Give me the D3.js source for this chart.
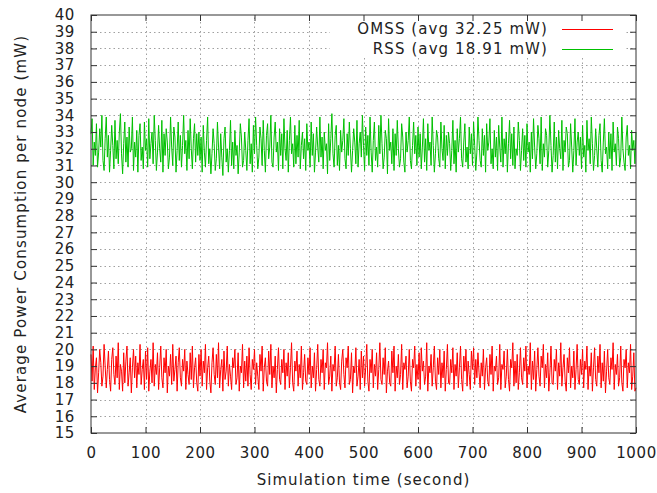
<!DOCTYPE html>
<html>
<head>
<meta charset="utf-8">
<script src="https://cdn.jsdelivr.net/npm/d3@7"></script>
<style>
  body { margin: 0; background: #fff; }
  svg text { font-family: "DejaVu Sans", sans-serif; fill: #222; }
</style>
</head>
<body>
<div id="chart"></div>
<script>
// values, one sample every 2 seconds (0..1000)
const seriesNames = ['OMSS (avg 32.25 mW)', 'RSS (avg 18.91 mW)'];
const seriesColors = ['#ff0000', '#00c000'];
const xTicks = [0, 100, 200, 300, 400, 500, 600, 700, 800, 900, 1000];
const yTicks = [15, 16, 17, 18, 19, 20, 21, 22, 23, 24, 25, 26, 27, 28, 29, 30, 31, 32, 33, 34, 35, 36, 37, 38, 39, 40];

// red line (lower band)
const redValues = [
    19.7,18.1,20.2,17.6,18.9,19.5,17.4,18.6,20.0,19.2,17.8,18.4,20.3,19.0,17.7,18.8,19.9,18.2,17.5,19.4,20.1,18.5,17.9,19.6,18.3,20.4,17.6,19.1,18.7,17.5,19.8,18.0,19.3,20.2,17.8,18.6,19.5,17.4,18.9,20.0,18.3,19.6,17.7,19.2,18.5,20.3,17.9,18.8,19.4,17.6,
    19.9,18.2,20.1,17.5,18.7,19.4,18.0,20.4,17.8,19.1,18.5,19.8,17.6,18.9,20.2,18.3,17.7,19.5,18.6,20.0,17.4,19.0,18.4,19.7,17.9,20.3,18.1,18.8,19.6,17.5,19.2,20.1,18.3,17.8,19.4,18.7,20.0,17.6,19.3,18.5,17.9,19.8,18.2,20.2,17.7,18.9,19.5,18.0,17.5,19.7,
    18.4,20.0,17.8,19.3,18.6,20.3,17.6,18.9,19.6,18.1,17.4,19.2,20.1,18.5,17.9,19.7,18.3,20.4,17.7,18.8,19.4,17.5,19.9,18.2,18.7,20.2,17.8,19.1,18.4,17.6,19.5,18.9,20.0,17.9,18.3,19.8,17.5,19.0,18.6,20.3,17.7,19.3,18.1,19.6,17.8,20.1,18.5,17.6,19.4,18.8,
    20.0,17.9,19.2,18.4,17.6,19.7,18.7,20.2,17.5,18.9,19.5,18.1,17.8,19.9,18.5,20.3,17.7,19.0,18.3,19.6,17.4,18.8,20.1,18.2,17.9,19.4,18.6,20.0,17.6,19.2,18.4,19.8,17.7,18.9,20.4,18.0,17.5,19.3,18.7,19.9,17.8,19.1,18.3,20.2,17.6,18.6,19.7,18.1,17.9,19.5,
    18.5,20.1,17.7,19.0,18.3,19.8,17.5,18.8,20.3,18.2,17.8,19.4,18.6,20.0,17.6,19.2,18.9,20.4,17.9,18.4,19.6,17.5,19.1,18.7,20.2,17.8,18.3,19.7,18.0,17.6,19.3,20.0,18.5,17.7,19.5,18.9,20.2,17.9,18.2,19.8,17.4,19.0,18.6,20.1,17.8,18.4,19.4,17.6,19.9,18.3,
    19.6,17.8,18.9,20.3,18.1,17.5,19.4,18.6,20.0,17.7,19.1,18.4,19.8,17.6,18.8,20.4,18.2,17.9,19.5,18.5,20.1,17.4,18.7,19.3,18.0,17.8,19.9,18.6,20.2,17.5,19.0,18.3,19.7,17.9,18.5,20.3,17.6,19.2,18.8,19.6,17.7,18.4,20.0,18.1,17.5,19.4,18.9,20.2,17.8,19.1,
    18.2,19.8,17.6,20.1,18.7,19.3,17.9,18.4,20.4,17.5,19.0,18.6,19.7,17.8,18.9,20.2,18.1,17.6,19.5,18.5,20.0,17.7,19.2,18.3,19.9,17.5,18.8,20.3,18.0,17.9,19.4,18.6,20.1,17.6,19.1,18.4,19.8,17.7,18.9,20.2,18.2,17.5,19.6,18.7,20.0,17.8,19.3,18.5,17.6,19.9,
    18.8,20.1,17.9,19.4,18.3,19.8,18.6,17.7,19.2,18.4,20.0,17.6,18.9,19.5,18.1,17.8,19.7,18.5,20.2,17.5,19.0,18.7,19.6,17.9,18.3,20.3,17.6,19.1,18.8,19.9,17.7,18.4,20.0,18.2,17.5,19.4,18.9,20.4,17.8,19.3,18.0,19.7,17.6,18.6,20.1,18.3,17.9,19.5,18.7,20.2,
    17.7,19.0,18.5,20.4,17.6,19.3,18.2,19.9,17.5,18.8,20.1,18.4,17.8,19.6,18.9,20.3,17.7,19.1,18.3,19.8,17.5,18.6,20.2,18.0,17.9,19.4,18.7,20.0,17.6,19.2,18.4,20.4,17.8,18.9,19.7,18.1,17.5,19.5,18.6,20.1,17.7,19.0,18.3,19.9,17.6,18.8,20.3,18.2,17.9,19.4,
    18.5,20.0,17.7,19.3,18.8,20.2,17.6,19.0,18.4,19.8,17.5,18.9,20.1,18.2,17.8,19.6,18.6,20.3,17.7,19.2,18.1,19.9,17.4,18.7,20.0,18.3,17.9,19.5,18.8,20.4,17.6,19.1,18.5,19.7,17.8,18.3,20.2,18.0,17.5,19.4,18.9,20.0,17.7,19.2,18.6,20.3,17.6,18.4,19.8,17.5,
    17.7
];

// green line (upper band)
const greenValues = [
    32.9,33.8,31.0,32.4,31.6,33.5,30.9,31.8,33.2,32.1,34.0,31.3,30.7,32.6,33.9,31.5,32.8,30.6,31.9,33.4,32.2,30.8,33.7,31.4,32.5,31.1,33.0,34.1,31.7,30.5,32.3,33.6,31.2,32.7,30.9,33.3,31.8,32.0,33.9,30.7,32.4,31.5,33.1,30.6,32.8,33.5,31.3,32.1,30.8,33.6,
    31.9,32.6,30.9,33.8,31.4,32.3,33.0,31.1,34.0,32.5,30.7,31.8,33.4,32.0,31.2,33.7,30.6,32.9,31.6,33.2,32.4,30.8,31.5,33.9,32.1,31.0,33.3,32.7,30.6,31.9,33.6,31.3,32.8,30.9,32.2,34.0,31.7,32.5,30.7,33.1,31.4,33.8,32.0,30.8,32.6,33.5,31.2,32.9,31.6,33.0,
    31.3,32.7,30.6,33.4,31.8,30.9,32.5,33.9,31.1,32.0,30.5,31.7,33.2,32.3,30.7,31.4,33.6,32.1,30.8,32.9,31.5,30.4,32.6,33.3,31.2,32.0,30.6,31.9,33.7,31.0,32.4,30.8,33.1,31.6,32.2,30.5,31.8,33.5,32.7,30.9,31.3,33.0,31.9,30.7,32.5,33.8,31.1,32.3,30.6,33.4,
    31.7,33.9,32.2,30.8,31.5,33.3,32.6,31.0,33.7,31.9,30.6,32.8,33.5,31.4,32.1,34.0,31.2,30.9,32.7,33.6,31.8,32.4,30.7,33.2,31.6,32.9,30.8,33.8,32.0,31.3,33.1,30.6,32.5,33.9,31.7,32.3,30.9,33.4,31.1,32.8,31.5,33.7,30.8,32.2,33.0,31.4,32.6,30.7,33.5,31.9,
    32.4,30.9,33.6,31.6,32.9,30.6,31.8,33.3,32.1,31.2,33.9,31.5,32.7,30.8,33.0,31.9,32.3,30.5,33.5,31.3,32.6,34.1,31.7,30.9,32.8,33.4,31.0,32.2,30.7,33.1,31.8,32.5,33.8,31.4,30.8,32.9,31.6,33.6,32.0,30.6,31.9,33.2,32.4,31.1,33.7,30.9,32.3,33.0,31.5,34.0,
    32.2,30.7,33.3,31.6,32.8,31.0,33.9,31.8,30.6,32.5,33.6,31.3,32.1,30.9,33.4,31.7,34.0,32.3,30.8,31.5,33.1,32.6,30.5,33.8,31.9,32.4,31.1,33.2,30.7,32.9,31.6,33.7,32.0,30.9,31.4,33.5,32.7,31.2,30.6,33.0,31.8,32.5,33.9,31.3,30.8,32.2,33.6,31.7,32.8,31.0,
    33.3,31.5,32.9,30.8,32.1,33.8,31.2,32.6,30.7,33.5,31.9,32.4,31.0,33.9,32.2,30.6,31.7,33.1,32.7,31.4,30.9,33.6,32.0,31.3,33.4,30.8,32.8,31.6,33.0,32.3,30.7,31.9,33.7,31.1,32.5,30.6,33.2,31.8,32.6,33.9,31.4,30.9,32.4,33.5,31.2,32.1,30.8,33.3,31.7,32.9,
    31.0,33.6,32.2,30.7,31.8,33.9,32.5,31.3,30.9,33.2,31.6,32.8,30.6,33.5,31.9,32.4,33.8,31.1,32.0,30.8,33.1,31.5,32.7,30.7,33.4,32.1,31.2,33.9,30.9,32.6,31.7,33.0,30.6,32.3,33.7,31.4,32.9,31.0,33.3,30.8,32.0,31.6,33.6,32.5,30.7,31.9,33.2,31.3,32.8,30.9,
    33.5,31.8,32.4,30.6,33.0,31.4,33.8,32.1,30.8,31.7,33.4,32.6,31.1,33.9,30.7,32.3,31.5,33.2,32.8,30.9,31.9,34.0,32.2,30.6,31.6,33.6,31.2,32.7,30.8,33.1,32.0,31.4,33.7,30.7,32.5,31.8,33.3,32.9,30.9,31.3,33.5,32.1,30.6,31.9,33.8,31.0,32.4,33.0,31.6,32.7,
    30.8,33.4,31.5,32.2,30.6,33.7,31.9,32.6,31.1,33.9,32.3,30.7,31.6,33.2,32.0,30.9,32.8,33.5,31.3,30.6,32.4,33.8,31.7,32.1,30.8,33.0,31.4,32.9,30.7,33.6,31.8,32.3,31.0,33.3,32.6,30.9,31.5,33.9,32.0,31.2,30.7,32.7,33.4,31.6,32.2,30.8,33.1,31.9,32.5,31.1,
    33.0
];

// setting param
const width = 657;
const height = 493;
const margin = {top: 15, right: 21, bottom: 60, left: 91};
const tickLen = 6;
const fontSize = '15px';

const svg = d3.select('#chart').append('svg')
    .attr('width', width)
    .attr('height', height);

const x = d3.scaleLinear().domain([0, 1000]).range([margin.left, width - margin.right]);
const y = d3.scaleLinear().domain([15, 40]).range([height - margin.bottom, margin.top]);

// 网格
const grid = svg.append('g')
    .attr('stroke', '#a0a0a0')
    .attr('stroke-width', 1)
    .attr('stroke-dasharray', '1.5,3');
grid.selectAll('.gx')
    .data(xTicks.slice(1, -1))
    .enter()
    .append('line')
    .attr('x1', d => Math.round(x(d)) + 0.5)
    .attr('x2', d => Math.round(x(d)) + 0.5)
    .attr('y1', y(15))
    .attr('y2', y(40));
grid.selectAll('.gy')
    .data(yTicks.slice(1, -1))
    .enter()
    .append('line')
    .attr('x1', x(0))
    .attr('x2', x(1000))
    .attr('y1', d => Math.round(y(d)) + 0.5)
    .attr('y2', d => Math.round(y(d)) + 0.5);

// key background hides the grid behind the legend
svg.append('rect')
    .attr('x', 330)
    .attr('y', margin.top + 1)
    .attr('width', 296)
    .attr('height', 42)
    .attr('fill', '#fff');

// lines, spread evenly over 0..1000 s
const drawSeries = (values, color) => {
    const step = 1000 / (values.length - 1);
    const line = d3.line()
        .x((d, i) => x(i * step))
        .y(d => y(d));
    svg.append('path')
        .datum(values)
        .attr('fill', 'none')
        .style('stroke', color)
        .attr('stroke-width', 1)
        .attr('d', line);
};
drawSeries(redValues, seriesColors[0]);
drawSeries(greenValues, seriesColors[1]);

// axes, ticks point inwards and are mirrored on top/right
const fmt = d3.format('d');
const axisB = svg.append('g')
    .attr('transform', `translate(0,${y(15)})`)
    .call(d3.axisBottom(x).tickValues(xTicks).tickFormat(fmt).tickSize(-tickLen).tickPadding(14));
const axisT = svg.append('g')
    .attr('transform', `translate(0,${y(40)})`)
    .call(d3.axisTop(x).tickValues(xTicks).tickFormat('').tickSize(-tickLen));
const axisL = svg.append('g')
    .attr('transform', `translate(${x(0)},0)`)
    .call(d3.axisLeft(y).tickValues(yTicks).tickFormat(fmt).tickSize(-tickLen).tickPadding(16));
const axisR = svg.append('g')
    .attr('transform', `translate(${x(1000)},0)`)
    .call(d3.axisRight(y).tickValues(yTicks).tickFormat('').tickSize(-tickLen));

[axisB, axisT, axisL, axisR].forEach(a => {
    a.select('.domain').remove();
    a.selectAll('line').attr('stroke', '#333');
    a.selectAll('text')
        .style('font-size', fontSize)
        .style('letter-spacing', '0.6px')
        .attr('fill', '#222');
});

// border
svg.append('rect')
    .attr('x', x(0))
    .attr('y', y(40))
    .attr('width', x(1000) - x(0))
    .attr('height', y(15) - y(40))
    .attr('fill', 'none')
    .attr('stroke', '#333')
    .attr('stroke-width', 1);

// legend
const legend = svg.append('g');
seriesNames.forEach((name, i) => {
    const ly = 29 + i * 20;
    legend.append('text')
        .attr('x', 548)
        .attr('y', ly)
        .attr('dy', '0.35em')
        .attr('text-anchor', 'end')
        .style('font-size', fontSize)
        .style('letter-spacing', '1.1px')
        .text(name);
    legend.append('line')
        .attr('x1', 562)
        .attr('x2', 613)
        .attr('y1', ly + 0.5)
        .attr('y2', ly + 0.5)
        .style('stroke', seriesColors[i])
        .style('stroke-width', 1);
});

// axis titles
svg.append('text')
    .attr('x', (x(0) + x(1000)) / 2)
    .attr('y', 485)
    .attr('text-anchor', 'middle')
    .style('font-size', fontSize)
    .style('letter-spacing', '1.05px')
    .text('Simulation time (second)');

svg.append('text')
    .attr('transform', `translate(26,${(y(15) + y(40)) / 2}) rotate(-90)`)
    .attr('text-anchor', 'middle')
    .style('font-size', fontSize)
    .style('letter-spacing', '1.15px')
    .text('Average Power Consumption per node (mW)');
</script>
</body>
</html>
